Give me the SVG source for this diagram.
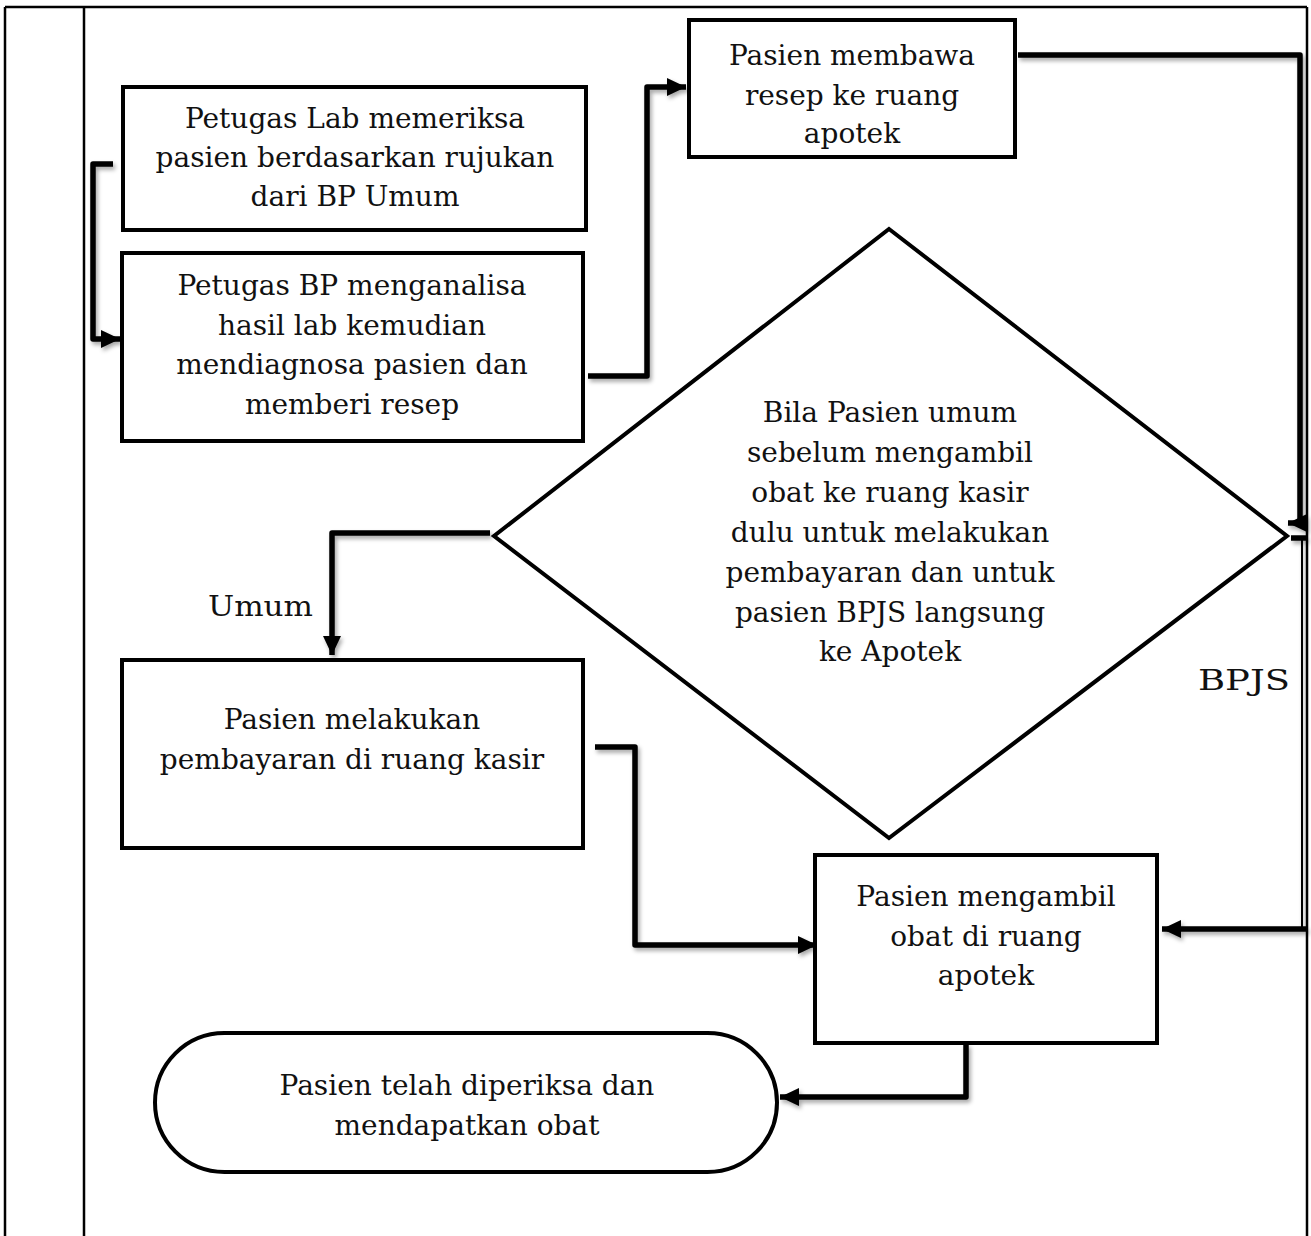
<svg xmlns="http://www.w3.org/2000/svg" width="1311" height="1236" viewBox="0 0 1311 1236">
  <style>
    .grid { stroke: #000; stroke-width: 2.5; fill: none; }
    .box { fill: #fff; stroke: #000; stroke-width: 4; }
    .lbl { font-family: "DejaVu Serif", "Liberation Serif", serif; font-size: 28px; fill: #111; text-anchor: middle; }
    .free { font-family: "DejaVu Serif", "Liberation Serif", serif; font-size: 28px; fill: #111; }
    .wire { fill: none; stroke: #000; stroke-width: 5.5; stroke-linejoin: round; }
    .thin { fill: none; stroke: #000; stroke-width: 2; }
  </style>
  <defs>
    <marker id="arrow" markerUnits="userSpaceOnUse" markerWidth="24" markerHeight="24" viewBox="0 0 24 24" refX="21" refY="12" orient="auto">
      <path d="M2 3 L21 12 L2 21 Z" fill="#000"/>
    </marker>
    <filter id="shade" x="-10%" y="-10%" width="130%" height="130%">
      <feDropShadow dx="2" dy="3" stdDeviation="2" flood-color="#000" flood-opacity="0.35"/>
    </filter>
  </defs>

  <rect width="1311" height="1236" fill="#fff"/>

  <!-- table frame -->
  <g id="table">
    <line class="grid" x1="5" y1="7" x2="1307" y2="7"/>
    <line class="grid" x1="5" y1="7" x2="5" y2="1236"/>
    <line class="grid" x1="84" y1="7" x2="84" y2="1236"/>
    <line class="grid" x1="1307" y1="7" x2="1307" y2="1236"/>
  </g>

  <!-- connectors -->
  <g id="connectors" filter="url(#shade)">
    <path class="wire" d="M113 164 H93 V339 H120" marker-end="url(#arrow)"/>
    <path class="wire" d="M588 376 H647 V87 H686" marker-end="url(#arrow)"/>
    <path class="wire" d="M1018 55 H1300 V523 H1288" marker-end="url(#arrow)"/>
    <path class="wire" d="M490 533 H332 V655" marker-end="url(#arrow)"/>
    <path class="wire" d="M595 747 H635 V945 H817" marker-end="url(#arrow)"/>
    <path class="wire" d="M1291 538 H1307"/>
    <path class="thin" d="M1302 538 V929"/>
    <path class="wire" d="M1307 929 H1162" marker-end="url(#arrow)"/>
    <path class="wire" d="M966 1044 V1097 H780" marker-end="url(#arrow)"/>
  </g>

  <g id="lab">
    <rect class="box" x="123" y="87" width="463" height="143"/>
    <text class="lbl" x="355" y="128">Petugas Lab memeriksa</text>
    <text class="lbl" x="355" y="167">pasien berdasarkan rujukan</text>
    <text class="lbl" x="355" y="206">dari BP Umum</text>
  </g>

  <g id="diagnosa">
    <rect class="box" x="122" y="253" width="461" height="188"/>
    <text class="lbl" x="352" y="295">Petugas BP menganalisa</text>
    <text class="lbl" x="352" y="335">hasil lab kemudian</text>
    <text class="lbl" x="352" y="374">mendiagnosa pasien dan</text>
    <text class="lbl" x="352" y="414">memberi resep</text>
  </g>

  <g id="resep">
    <rect class="box" x="689" y="20" width="326" height="137"/>
    <text class="lbl" x="852" y="65">Pasien membawa</text>
    <text class="lbl" x="852" y="105">resep ke ruang</text>
    <text class="lbl" x="852" y="143">apotek</text>
  </g>

  <g id="keputusan">
    <polygon class="box" points="889,229 1287,536 889,838 494,536"/>
    <text class="lbl" x="890" y="422">Bila Pasien umum</text>
    <text class="lbl" x="890" y="462">sebelum mengambil</text>
    <text class="lbl" x="890" y="502">obat ke ruang kasir</text>
    <text class="lbl" x="890" y="542">dulu untuk melakukan</text>
    <text class="lbl" x="890" y="582">pembayaran dan untuk</text>
    <text class="lbl" x="890" y="622">pasien BPJS langsung</text>
    <text class="lbl" x="890" y="661">ke Apotek</text>
  </g>

  <g id="label-umum">
    <text class="free" x="208" y="616" textLength="105" lengthAdjust="spacingAndGlyphs">Umum</text>
  </g>
  <g id="label-bpjs">
    <text class="free" x="1198" y="690" textLength="92" lengthAdjust="spacingAndGlyphs">BPJS</text>
  </g>

  <g id="kasir">
    <rect class="box" x="122" y="660" width="461" height="188"/>
    <text class="lbl" x="352" y="729">Pasien melakukan</text>
    <text class="lbl" x="352" y="769">pembayaran di ruang kasir</text>
  </g>

  <g id="apotek">
    <rect class="box" x="815" y="855" width="342" height="188"/>
    <text class="lbl" x="986" y="906">Pasien mengambil</text>
    <text class="lbl" x="986" y="946">obat di ruang</text>
    <text class="lbl" x="986" y="985">apotek</text>
  </g>

  <g id="selesai">
    <rect class="box" x="155" y="1033" width="622" height="139" rx="69.5" ry="69.5"/>
    <text class="lbl" x="467" y="1095">Pasien telah diperiksa dan</text>
    <text class="lbl" x="467" y="1135">mendapatkan obat</text>
  </g>
</svg>
